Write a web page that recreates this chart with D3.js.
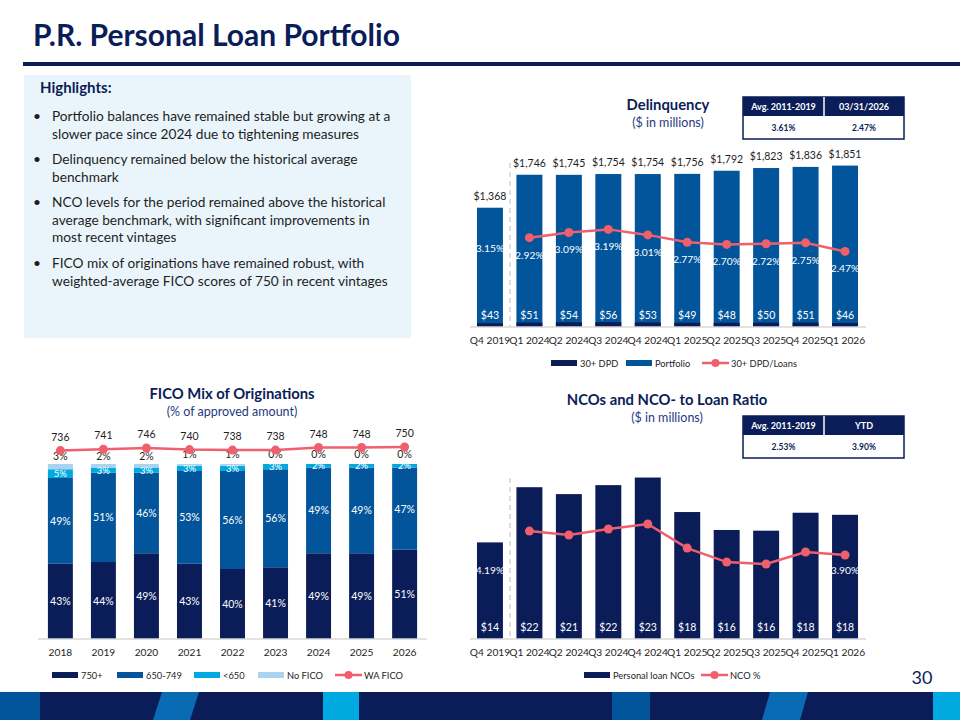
<!DOCTYPE html>
<html>
<head>
<meta charset="UTF-8">
<title>P.R. Personal Loan Portfolio</title>
<script src="https://cdn.jsdelivr.net/npm/d3@7"></script>
<style>
  * { margin: 0; padding: 0; }
  body { background: #fff; font-family: Lato, 'Open Sans', sans-serif; }
  svg text { font-family: Lato, 'Open Sans', sans-serif; }
</style>
</head>
<body>
<svg id="chart" width="960" height="720"></svg>
<script>
// ---- data ----
const quarters = ['Q4 2019', 'Q1 2024', 'Q2 2024', 'Q3 2024', 'Q4 2024', 'Q1 2025', 'Q2 2025', 'Q3 2025', 'Q4 2025', 'Q1 2026'];
const portfolio = [1368, 1746, 1745, 1754, 1754, 1756, 1792, 1823, 1836, 1851];
const dpd30 = [43, 51, 54, 56, 53, 49, 48, 50, 51, 46];
const dpdRatio = [3.15, 2.92, 3.09, 3.19, 3.01, 2.77, 2.70, 2.72, 2.75, 2.47];

const ncoAmount = [14.0, 22.0, 21.0, 22.3, 23.4, 18.4, 15.8, 15.7, 18.3, 18.0];
const ncoRatio = [4.19, 5.01, 4.83, 5.11, 5.34, 4.22, 3.57, 3.48, 4.04, 3.90];

const years = ['2018', '2019', '2020', '2021', '2022', '2023', '2024', '2025', '2026'];
const fico750 = [43, 44, 49, 43, 40, 41, 49, 49, 51];
const fico650 = [49, 51, 46, 53, 56, 56, 49, 49, 47];
const ficoLow = [5, 3, 3, 3, 3, 3, 2, 2, 2];
const ficoNone = [3, 2, 2, 1, 1, 0, 0, 0, 0];
const waFico = [736, 741, 746, 740, 738, 738, 748, 748, 750];

const delinqTable = [['Avg. 2011-2019', '03/31/2026'], ['3.61%', '2.47%']];
const ncoTable = [['Avg. 2011-2019', 'YTD'], ['2.53%', '3.90%']];

const highlights = [
  ['Portfolio balances have remained stable but growing at a', 'slower pace since 2024 due to tightening measures'],
  ['Delinquency remained below the historical average', 'benchmark'],
  ['NCO levels for the period remained above the historical', 'average benchmark, with significant improvements in', 'most recent vintages'],
  ['FICO mix of originations have remained robust, with', 'weighted-average FICO scores of 750 in recent vintages']
];

// ---- colours ----
const NAVY = '#0b1d58';
const BLUE = '#02559b';
const CYAN = '#00a9e0';
const LIGHT = '#a9d3f1';
const RED = '#ef5f6c';
const TXT = '#1e1e1e';

const svg = d3.select('#chart');
const fmtMoney = d3.format(',.0f');

// ---- page header ----
svg.append('text').attr('x', 33).attr('y', 46)
  .attr('font-size', 30).attr('font-weight', 700).attr('fill', NAVY)
  .text('P.R. Personal Loan Portfolio');
svg.append('rect').attr('x', 23).attr('y', 62).attr('width', 937).attr('height', 4).attr('fill', NAVY);

// highlights panel
svg.append('rect').attr('x', 24).attr('y', 75).attr('width', 387).attr('height', 263).attr('fill', '#eaf5fb');
svg.append('text').attr('x', 40).attr('y', 93).attr('font-size', 15).attr('font-weight', 700)
  .attr('fill', NAVY).text('Highlights:');
const bulletTop = [121, 164, 207, 268];
highlights.forEach((lines, i) => {
  svg.append('text').attr('x', 33).attr('y', bulletTop[i]).attr('font-size', 13.7).attr('fill', TXT).text('•');
  lines.forEach((l, j) => {
    svg.append('text').attr('x', 52).attr('y', bulletTop[i] + j * 17.6)
      .attr('font-size', 13.7).attr('fill', TXT).text(l);
  });
});

// ---- helpers ----
function chartTitle(cx, y, title, sub) {
  svg.append('text').attr('x', cx).attr('y', y).attr('text-anchor', 'middle')
    .attr('font-size', 14.8).attr('font-weight', 700).attr('fill', NAVY).text(title);
  svg.append('text').attr('x', cx).attr('y', y + 17).attr('text-anchor', 'middle')
    .attr('font-size', 12.5).attr('fill', '#1f3a82').text(sub);
}

function miniTable(x, y, rows) {
  const w = 161, h1 = 19, h2 = 23, mid = 81;
  const g = svg.append('g');
  g.append('rect').attr('x', x).attr('y', y).attr('width', w).attr('height', h1 + h2)
    .attr('fill', '#fff').attr('stroke', NAVY).attr('stroke-width', 1.5);
  g.append('rect').attr('x', x).attr('y', y).attr('width', w).attr('height', h1).attr('fill', NAVY);
  g.append('line').attr('x1', x + mid).attr('x2', x + mid).attr('y1', y).attr('y2', y + h1)
    .attr('stroke', '#fff').attr('stroke-width', 1.5);
  [x + mid / 2, x + mid + (w - mid) / 2].forEach((cx, i) => {
    g.append('text').attr('x', cx).attr('y', y + 13).attr('text-anchor', 'middle')
      .attr('font-size', 9).attr('font-weight', 700).attr('fill', '#fff').text(rows[0][i]);
    g.append('text').attr('x', cx).attr('y', y + h1 + 15).attr('text-anchor', 'middle')
      .attr('font-size', 8.5).attr('font-weight', 700).attr('fill', NAVY).text(rows[1][i]);
  });
}

function xAxis(scale, y, x0, x1) {
  svg.append('line').attr('x1', x0).attr('x2', x1).attr('y1', y).attr('y2', y)
    .attr('stroke', '#d9d9d9').attr('stroke-width', 1.5);
  const ax = svg.append('g').attr('transform', `translate(0,${y})`)
    .call(d3.axisBottom(scale).tickSize(0).tickPadding(10));
  ax.select('.domain').remove();
  ax.selectAll('text').attr('font-size', 10.2).attr('fill', TXT)
    .style('font-family', 'Lato, sans-serif');
}

function lineSeries(xs, ys, values, defined) {
  const line = d3.line().defined((d, i) => defined(i))
    .x((d, i) => xs(i)).y(d => ys(d));
  svg.append('path').datum(values).attr('d', line)
    .attr('fill', 'none').attr('stroke', RED).attr('stroke-width', 2.5);
  svg.append('g').selectAll('circle').data(values.map((v, i) => [v, i]).filter(d => defined(d[1])))
    .enter().append('circle')
    .attr('cx', d => xs(d[1])).attr('cy', d => ys(d[0])).attr('r', 4.5).attr('fill', RED);
}

function legend(items, y) {
  items.forEach(it => {
    if (it.type === 'rect') {
      svg.append('rect').attr('x', it.x).attr('y', y - 3).attr('width', 26).attr('height', 6).attr('fill', it.color);
    } else {
      svg.append('line').attr('x1', it.x).attr('x2', it.x + 27).attr('y1', y).attr('y2', y)
        .attr('stroke', RED).attr('stroke-width', 2.5);
      svg.append('circle').attr('cx', it.x + 13.5).attr('cy', y).attr('r', 4).attr('fill', RED);
    }
    svg.append('text').attr('x', it.x + 29).attr('y', y + 3.5).attr('font-size', 9.3)
      .attr('fill', TXT).text(it.label);
  });
}

// ---- Delinquency ----
chartTitle(668, 110, 'Delinquency', '($ in millions)');
miniTable(743, 97, delinqTable);

const xD = d3.scaleBand().domain(quarters).range([470, 865]).paddingInner(0.342).paddingOuter(0.177);
const yD = d3.scaleLinear().domain([0, 2000]).range([327, 152.6]);
const yD2 = d3.scaleLinear().domain([0, 5]).range([327, 174]);
const cxD = i => xD(quarters[i]) + xD.bandwidth() / 2;

svg.append('line').attr('x1', 510).attr('x2', 510).attr('y1', 163).attr('y2', 327)
  .attr('stroke', '#c8c8c8').attr('stroke-width', 1.2).attr('stroke-dasharray', '5,4');

svg.append('g').selectAll('rect').data(portfolio).enter().append('rect')
  .attr('x', (d, i) => xD(quarters[i])).attr('width', xD.bandwidth())
  .attr('y', d => yD(d)).attr('height', d => yD(0) - yD(d)).attr('fill', BLUE);
svg.append('g').selectAll('rect').data(dpd30).enter().append('rect')
  .attr('x', (d, i) => xD(quarters[i])).attr('width', xD.bandwidth())
  .attr('y', d => yD(d)).attr('height', d => yD(0) - yD(d)).attr('fill', NAVY);

svg.append('g').selectAll('text').data(portfolio).enter().append('text')
  .attr('x', (d, i) => cxD(i)).attr('y', d => yD(d) - 8).attr('text-anchor', 'middle')
  .attr('font-size', 10.5).attr('fill', TXT).text(d => '$' + fmtMoney(d));
svg.append('g').selectAll('text').data(dpd30).enter().append('text')
  .attr('x', (d, i) => cxD(i)).attr('y', 319).attr('text-anchor', 'middle')
  .attr('font-size', 10.5).attr('fill', '#fff').text(d => '$' + d);

lineSeries(cxD, yD2, dpdRatio, i => i > 0);
svg.append('g').selectAll('text').data(dpdRatio).enter().append('text')
  .attr('x', (d, i) => cxD(i)).attr('y', d => yD2(d) + 21).attr('text-anchor', 'middle')
  .attr('font-size', 10.3).attr('fill', '#fff').text(d => d.toFixed(2) + '%');

xAxis(xD, 327, 470, 866);
legend([
  { type: 'rect', x: 551, color: NAVY, label: '30+ DPD' },
  { type: 'rect', x: 626, color: BLUE, label: 'Portfolio' },
  { type: 'line', x: 702, label: '30+ DPD/Loans' }
], 363);

// ---- FICO mix ----
chartTitle(232, 399, 'FICO Mix of Originations', '(% of approved amount)');

const xF = d3.scaleBand().domain(years).range([38, 427]).paddingInner(0.42).paddingOuter(0.23);
const yF = d3.scaleLinear().domain([0, 100]).range([639, 464]);
const yF2 = d3.scaleLinear().domain([0, 1000]).range([639, 383]);
const cxF = i => xF(years[i]) + xF.bandwidth() / 2;

const ficoRows = years.map((y, i) => ({ year: y, a: fico750[i], b: fico650[i], c: ficoLow[i], d: ficoNone[i] }));
const stack = d3.stack().keys(['a', 'b', 'c', 'd'])(ficoRows);
const ficoColors = [NAVY, BLUE, CYAN, LIGHT];

svg.append('g').selectAll('g').data(stack).enter().append('g')
  .attr('fill', (d, k) => ficoColors[k])
  .selectAll('rect').data(d => d).enter().append('rect')
  .attr('x', d => xF(d.data.year)).attr('width', xF.bandwidth())
  .attr('y', d => yF(d[1])).attr('height', d => yF(d[0]) - yF(d[1]));

// labels inside segments
stack.slice(0, 3).forEach((layer, k) => {
  svg.append('g').selectAll('text').data(layer).enter().append('text')
    .attr('x', d => xF(d.data.year) + xF.bandwidth() / 2)
    .attr('y', d => (yF(d[0]) + yF(d[1])) / 2 + (k === 2 ? 3.5 : 4))
    .attr('text-anchor', 'middle').attr('font-size', k === 2 ? 9.5 : 10.5).attr('fill', '#fff')
    .text(d => (d[1] - d[0]) + '%');
});
// No FICO labels above bars
svg.append('g').selectAll('text').data(ficoNone).enter().append('text')
  .attr('x', (d, i) => cxF(i)).attr('y', (d, i) => 460 - (i < 3 ? 0 : 2))
  .attr('text-anchor', 'middle').attr('font-size', 10.5).attr('fill', TXT).text(d => d + '%');

lineSeries(cxF, yF2, waFico, () => true);
svg.append('g').selectAll('text').data(waFico).enter().append('text')
  .attr('x', (d, i) => cxF(i)).attr('y', d => yF2(d) - 10).attr('text-anchor', 'middle')
  .attr('font-size', 10.5).attr('fill', TXT).text(d => d);

xAxis(xF, 639, 38, 427);
legend([
  { type: 'rect', x: 52, color: NAVY, label: '750+' },
  { type: 'rect', x: 117, color: BLUE, label: '650-749' },
  { type: 'rect', x: 194, color: CYAN, label: '<650' },
  { type: 'rect', x: 258, color: LIGHT, label: 'No FICO' },
  { type: 'line', x: 335, label: 'WA FICO' }
], 675);

// ---- NCOs ----
chartTitle(667, 405, 'NCOs and NCO- to Loan Ratio', '($ in millions)');
miniTable(743, 416, ncoTable);

const xN = d3.scaleBand().domain(quarters).range([470, 865]).paddingInner(0.342).paddingOuter(0.177);
const yN = d3.scaleLinear().domain([0, 25]).range([639, 466.5]);
const yN2 = d3.scaleLinear().domain([0, 8]).range([639, 466.7]);
const cxN = i => xN(quarters[i]) + xN.bandwidth() / 2;

svg.append('line').attr('x1', 510).attr('x2', 510).attr('y1', 478).attr('y2', 639)
  .attr('stroke', '#c8c8c8').attr('stroke-width', 1.2).attr('stroke-dasharray', '5,4');

svg.append('g').selectAll('rect').data(ncoAmount).enter().append('rect')
  .attr('x', (d, i) => xN(quarters[i])).attr('width', xN.bandwidth())
  .attr('y', d => yN(d)).attr('height', d => yN(0) - yN(d)).attr('fill', NAVY);
svg.append('g').selectAll('text').data(ncoAmount).enter().append('text')
  .attr('x', (d, i) => cxN(i)).attr('y', 631).attr('text-anchor', 'middle')
  .attr('font-size', 10.5).attr('fill', '#fff').text(d => '$' + d3.format('.0f')(d));

lineSeries(cxN, yN2, ncoRatio, i => i > 0);
// only first and last ratio are labelled
svg.append('g').selectAll('text').data([0, ncoRatio.length - 1]).enter().append('text')
  .attr('x', i => cxN(i)).attr('y', 574).attr('text-anchor', 'middle')
  .attr('font-size', 10.3).attr('fill', '#fff').text(i => ncoRatio[i].toFixed(2) + '%');

xAxis(xN, 639, 470, 866);
legend([
  { type: 'rect', x: 584, color: NAVY, label: 'Personal loan NCOs' },
  { type: 'line', x: 701, label: 'NCO %' }
], 675);

// page number + footer band
svg.append('text').attr('x', 922).attr('y', 684).attr('text-anchor', 'middle')
  .attr('font-size', 18).attr('fill', NAVY).text('30');
svg.append('rect').attr('x', 0).attr('y', 692).attr('width', 960).attr('height', 28).attr('fill', NAVY);
svg.append('rect').attr('x', 0).attr('y', 692).attr('width', 40).attr('height', 28).attr('fill', BLUE);
svg.append('rect').attr('x', 323).attr('y', 692).attr('width', 36).attr('height', 28).attr('fill', CYAN);
svg.append('rect').attr('x', 612).attr('y', 692).attr('width', 38).attr('height', 28).attr('fill', BLUE);
svg.append('rect').attr('x', 933).attr('y', 692).attr('width', 27).attr('height', 28).attr('fill', CYAN);
svg.append('path').attr('d', 'M162,692 L199,692 L190,720 L153,720 Z').attr('fill', '#0a6bb5');
svg.append('path').attr('d', 'M770,692 L808,692 L800,720 L762,720 Z').attr('fill', '#0a6bb5');
</script>
</body>
</html>
